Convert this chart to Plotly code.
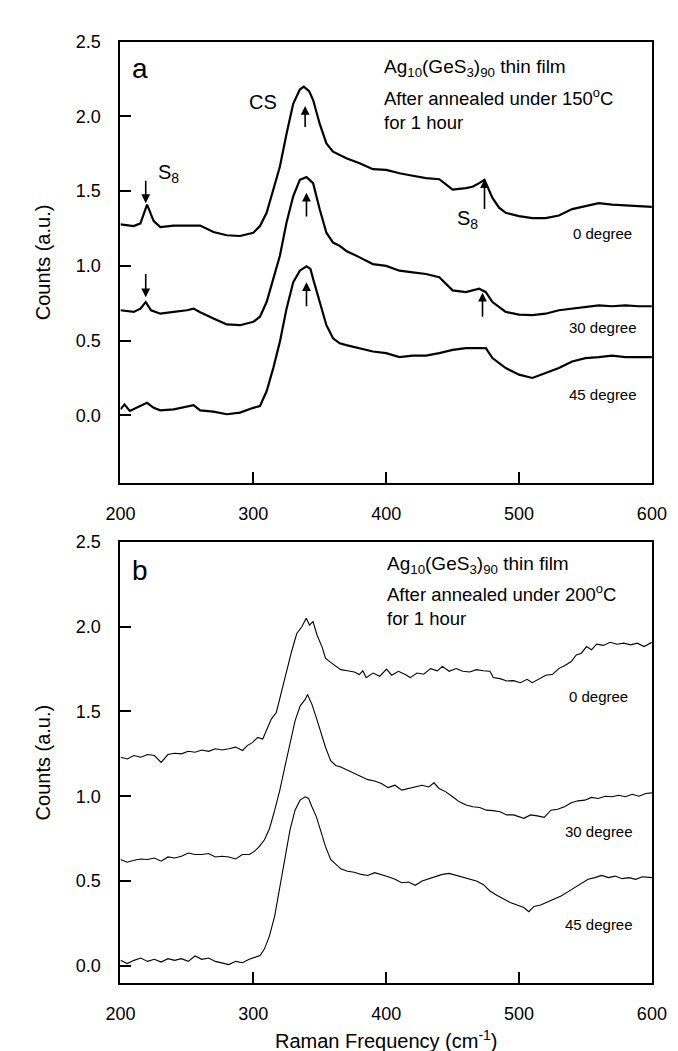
import plotly.graph_objects as go

# ---------------- Panel a (150 C anneal) ----------------
a0_x = [200, 210, 215, 220, 225, 230, 240, 250, 260, 270, 280, 290, 300, 305, 310, 315, 320, 325, 330, 335, 338, 342, 345, 350, 355, 360, 365, 370, 380, 390, 400, 410, 420, 430, 440, 450, 460, 465, 470, 474, 480, 485, 490, 500, 510, 520, 530, 540, 550, 560, 570, 580, 590, 600]
a0_y = [1.278, 1.267, 1.285, 1.41, 1.30, 1.26, 1.27, 1.27, 1.27, 1.227, 1.205, 1.20, 1.222, 1.267, 1.355, 1.51, 1.665, 1.885, 2.085, 2.18, 2.20, 2.17, 2.11, 1.95, 1.82, 1.764, 1.74, 1.72, 1.687, 1.647, 1.643, 1.62, 1.603, 1.587, 1.58, 1.51, 1.52, 1.53, 1.554, 1.576, 1.455, 1.39, 1.355, 1.333, 1.32, 1.32, 1.337, 1.38, 1.40, 1.42, 1.41, 1.404, 1.40, 1.395]

a30_x = [200, 210, 215, 219, 223, 230, 240, 250, 255, 260, 270, 280, 290, 300, 305, 310, 315, 320, 325, 330, 335, 340, 345, 350, 355, 360, 365, 370, 380, 390, 400, 410, 420, 430, 440, 450, 460, 470, 475, 480, 490, 500, 510, 520, 530, 540, 550, 560, 570, 580, 590, 600]
a30_y = [0.703, 0.692, 0.714, 0.758, 0.703, 0.68, 0.692, 0.703, 0.714, 0.69, 0.648, 0.608, 0.603, 0.626, 0.66, 0.758, 0.913, 1.068, 1.29, 1.466, 1.576, 1.594, 1.554, 1.377, 1.222, 1.156, 1.134, 1.10, 1.057, 1.012, 1.0, 0.968, 0.957, 0.946, 0.924, 0.836, 0.824, 0.847, 0.824, 0.758, 0.692, 0.674, 0.67, 0.68, 0.703, 0.714, 0.725, 0.736, 0.73, 0.736, 0.73, 0.73]

a45_x = [200, 203, 207, 215, 220, 225, 230, 240, 250, 255, 260, 270, 280, 290, 300, 305, 310, 315, 320, 325, 330, 335, 340, 343, 345, 350, 355, 360, 365, 370, 380, 390, 400, 410, 420, 430, 440, 450, 460, 470, 475, 480, 490, 500, 510, 520, 530, 540, 550, 560, 570, 580, 590, 600]
a45_y = [0.04, 0.073, 0.029, 0.062, 0.084, 0.05, 0.033, 0.04, 0.062, 0.068, 0.033, 0.024, 0.007, 0.018, 0.05, 0.062, 0.161, 0.316, 0.493, 0.714, 0.89, 0.968, 0.997, 0.98, 0.913, 0.758, 0.603, 0.515, 0.482, 0.47, 0.45, 0.427, 0.416, 0.39, 0.40, 0.40, 0.416, 0.438, 0.45, 0.45, 0.45, 0.383, 0.316, 0.272, 0.25, 0.283, 0.316, 0.36, 0.383, 0.39, 0.40, 0.39, 0.39, 0.39]

# ---------------- Panel b (200 C anneal) ----------------
b0_x = [200, 205.1, 210.2, 215.3, 220.4, 225.5, 230.6, 235.7, 240.8, 245.9, 251.0, 256.1, 261.2, 266.3, 271.4, 276.5, 281.6, 286.7, 291.8, 295.7, 299.5, 303.3, 307.1, 309.7, 313.5, 317.3, 321.2, 325.0, 328.8, 332.7, 336.5, 339.8, 342.3, 344.9, 348.0, 351.8, 354.3, 358.2, 362.0, 365.8, 370.9, 376.0, 379.8, 382.4, 384.9, 390.1, 395.2, 400.3, 404.1, 409.2, 414.3, 418.1, 423.2, 428.3, 433.4, 438.5, 442.3, 447.4, 452.6, 457.7, 462.8, 467.9, 473.0, 478.1, 480.6, 485.7, 490.8, 495.9, 501.0, 506.1, 509.9, 515.1, 520.2, 525.3, 530.4, 534.2, 539.3, 543.1, 546.9, 550.8, 554.6, 558.4, 563.5, 568.6, 573.7, 578.8, 583.9, 589.0, 594.1, 600]
b0_y = [1.23, 1.22, 1.24, 1.23, 1.246, 1.24, 1.20, 1.246, 1.254, 1.25, 1.265, 1.26, 1.273, 1.265, 1.28, 1.273, 1.28, 1.29, 1.27, 1.30, 1.318, 1.347, 1.338, 1.386, 1.455, 1.494, 1.62, 1.737, 1.854, 1.96, 2.0, 2.05, 2.01, 2.03, 1.95, 1.88, 1.815, 1.79, 1.77, 1.747, 1.74, 1.733, 1.718, 1.74, 1.70, 1.727, 1.708, 1.75, 1.714, 1.737, 1.718, 1.70, 1.727, 1.72, 1.753, 1.74, 1.766, 1.737, 1.753, 1.737, 1.733, 1.747, 1.74, 1.737, 1.70, 1.694, 1.68, 1.682, 1.67, 1.69, 1.67, 1.69, 1.714, 1.72, 1.756, 1.77, 1.795, 1.834, 1.844, 1.883, 1.864, 1.897, 1.89, 1.908, 1.897, 1.903, 1.893, 1.903, 1.883, 1.908]

b30_x = [200, 205.1, 210.2, 215.3, 220.4, 225.5, 230.6, 235.7, 240.8, 245.9, 251.0, 256.1, 261.2, 266.3, 271.4, 276.5, 281.6, 286.7, 291.8, 296.9, 300.8, 304.6, 308.4, 312.2, 316.1, 319.9, 323.7, 327.6, 331.4, 335.2, 339.0, 340.8, 344.1, 347.4, 350.5, 354.3, 358.2, 362.0, 365.8, 370.9, 376.0, 381.1, 386.2, 391.3, 396.4, 401.5, 406.6, 411.7, 416.8, 421.9, 427.0, 432.1, 436.0, 439.8, 444.9, 450.0, 455.1, 460.2, 465.3, 470.4, 475.5, 480.6, 485.7, 490.8, 495.9, 503.6, 508.7, 513.8, 518.9, 524.0, 529.1, 534.2, 539.3, 544.4, 549.5, 554.6, 559.7, 564.8, 569.9, 575.0, 580.1, 585.2, 590.3, 595.4, 600]
b30_y = [0.627, 0.611, 0.623, 0.63, 0.627, 0.636, 0.617, 0.642, 0.636, 0.646, 0.665, 0.656, 0.656, 0.662, 0.642, 0.646, 0.642, 0.63, 0.656, 0.656, 0.675, 0.704, 0.743, 0.81, 0.918, 1.035, 1.172, 1.308, 1.445, 1.532, 1.571, 1.60, 1.542, 1.464, 1.386, 1.289, 1.21, 1.182, 1.172, 1.153, 1.133, 1.114, 1.098, 1.09, 1.075, 1.051, 1.065, 1.036, 1.046, 1.059, 1.065, 1.055, 1.079, 1.046, 1.026, 0.997, 0.967, 0.948, 0.938, 0.934, 0.918, 0.915, 0.909, 0.89, 0.89, 0.87, 0.89, 0.884, 0.876, 0.918, 0.923, 0.938, 0.962, 0.973, 0.977, 0.993, 0.987, 1.0, 0.997, 1.006, 0.997, 1.012, 1.0, 1.016, 1.02]

b45_x = [200, 205.1, 210.2, 215.3, 220.4, 225.5, 230.6, 235.7, 240.8, 245.9, 251.0, 256.1, 261.2, 266.3, 271.4, 276.5, 281.6, 286.7, 291.8, 296.9, 302.0, 305.1, 308.4, 312.2, 316.1, 319.9, 323.7, 327.6, 331.4, 335.2, 339.0, 341.6, 344.1, 347.4, 350.5, 354.3, 358.2, 362.0, 365.8, 370.9, 376.0, 381.1, 386.2, 391.3, 396.4, 401.5, 406.6, 411.7, 416.8, 421.9, 427.0, 432.1, 437.2, 442.3, 447.4, 452.6, 457.7, 462.8, 467.9, 473.0, 478.1, 483.2, 488.3, 493.4, 498.5, 503.6, 507.4, 511.2, 516.3, 521.4, 526.5, 531.6, 536.7, 541.8, 546.9, 552.0, 557.1, 562.2, 567.3, 572.4, 577.6, 582.7, 587.8, 592.9, 600]
b45_y = [0.032, 0.013, 0.032, 0.046, 0.026, 0.038, 0.022, 0.042, 0.032, 0.042, 0.026, 0.058, 0.038, 0.046, 0.026, 0.018, 0.007, 0.026, 0.018, 0.038, 0.052, 0.061, 0.10, 0.178, 0.295, 0.47, 0.645, 0.802, 0.918, 0.977, 0.997, 0.987, 0.938, 0.88, 0.802, 0.704, 0.627, 0.598, 0.572, 0.558, 0.552, 0.539, 0.533, 0.549, 0.539, 0.525, 0.51, 0.49, 0.494, 0.475, 0.50, 0.514, 0.529, 0.539, 0.545, 0.533, 0.525, 0.51, 0.50, 0.48, 0.441, 0.416, 0.393, 0.373, 0.358, 0.344, 0.319, 0.35, 0.358, 0.377, 0.393, 0.412, 0.436, 0.461, 0.486, 0.51, 0.52, 0.533, 0.52, 0.529, 0.514, 0.52, 0.51, 0.525, 0.52]

x_ticks = [200, 300, 400, 500, 600]
y_ticks = [0.0, 0.5, 1.0, 1.5, 2.0, 2.5]
y_ticktext = ["0.0", "0.5", "1.0", "1.5", "2.0", "2.5"]
degree_labels = ["0 degree", "30 degree", "45 degree"]

FONT = "Liberation Sans, Arial, sans-serif"
W, H = 678, 1051
L, R = 102, 658
A_T, A_B = 24, 469
B_T, B_B = 529, 974

fig = go.Figure()
for xs, ys in [(a0_x, a0_y), (a30_x, a30_y), (a45_x, a45_y)]:
    fig.add_trace(go.Scatter(x=xs, y=ys, mode="lines", line=dict(color="black", width=2.2),
                             xaxis="x", yaxis="y", showlegend=False, hoverinfo="skip"))
for xs, ys in [(b0_x, b0_y), (b30_x, b30_y), (b45_x, b45_y)]:
    fig.add_trace(go.Scatter(x=xs, y=ys, mode="lines", line=dict(color="black", width=1.1),
                             xaxis="x2", yaxis="y2", showlegend=False, hoverinfo="skip"))

axis_common = dict(showline=True, mirror=True, linecolor="black", linewidth=2,
                   ticks="inside", ticklen=11, tickwidth=1.5, tickcolor="black",
                   showgrid=False, zeroline=False,
                   tickfont=dict(family=FONT, size=18, color="black"),
                   ticklabelstandoff=14)

fig.update_layout(
    width=W, height=H,
    margin=dict(l=0, r=0, t=0, b=0),
    paper_bgcolor="white", plot_bgcolor="white",
    xaxis=dict(axis_common, domain=[L / W, R / W], range=[200, 600], tickvals=x_ticks, anchor="y"),
    yaxis=dict(axis_common, domain=[1 - A_B / H, 1 - A_T / H], range=[-0.45, 2.5],
               tickvals=y_ticks, ticktext=y_ticktext, anchor="x"),
    xaxis2=dict(axis_common, domain=[L / W, R / W], range=[200, 600], tickvals=x_ticks, anchor="y2"),
    yaxis2=dict(axis_common, domain=[1 - B_B / H, 1 - B_T / H], range=[-0.1, 2.5],
                tickvals=y_ticks, ticktext=y_ticktext, anchor="x2"),
)

ann = []
def txt(xref, yref, x, y, text, size=19, xanchor="left"):
    ann.append(dict(xref=xref, yref=yref, x=x, y=y, text=text, showarrow=False,
                    xanchor=xanchor, yanchor="middle", align="left",
                    font=dict(family=FONT, size=size, color="black")))

def arrow(xref, yref, x, y_tail, y_head):
    ann.append(dict(xref=xref, yref=yref, axref=xref, ayref=yref, x=x, y=y_head,
                    ax=x, ay=y_tail, text="", showarrow=True, arrowhead=2,
                    arrowsize=1.1, arrowwidth=1.6, arrowcolor="black"))

# Panel a texts
txt("x", "y", 215, 2.32, "a", size=28, xanchor="center")
txt("x", "y", 397, 2.323, "Ag<sub>10</sub>(GeS<sub>3</sub>)<sub>90</sub> thin film")
txt("x", "y", 397, 2.051, "After annealed under 150<sup>o</sup>C<br>for 1 hour", size=18.5)
txt("x", "y", 307, 2.10, "CS", size=20, xanchor="center")
txt("x", "y", 236, 1.62, "S<sub>8</sub>", size=20, xanchor="center")
txt("x", "y", 461, 1.31, "S<sub>8</sub>", size=20, xanchor="center")
for lab, yv in zip(degree_labels, [1.22, 0.59, 0.14]):
    txt("x", "y", 563, yv, lab, size=15, xanchor="center")
arrow("x", "y", 219, 1.58, 1.42)
arrow("x", "y", 219, 0.955, 0.79)
arrow("x", "y", 339, 1.92, 2.07)
arrow("x", "y", 340, 1.32, 1.49)
arrow("x", "y", 340, 0.72, 0.89)
arrow("x", "y", 474, 1.37, 1.58)
arrow("x", "y", 472.5, 0.65, 0.82)

# Panel b texts
txt("x2", "y2", 215, 2.33, "b", size=28, xanchor="center")
txt("x2", "y2", 399, 2.362, "Ag<sub>10</sub>(GeS<sub>3</sub>)<sub>90</sub> thin film")
txt("x2", "y2", 399, 2.13, "After annealed under 200<sup>o</sup>C<br>for 1 hour", size=18.5)
for lab, yv in zip(degree_labels, [1.59, 0.79, 0.246]):
    txt("x2", "y2", 560, yv, lab, size=15, xanchor="center")

# Axis titles
for yc in [(A_T + A_B) / 2, (B_T + B_B) / 2]:
    ann.append(dict(xref="paper", yref="paper", x=21 / W, y=1 - yc / H, text="Counts (a.u.)",
                    showarrow=False, textangle=-90, xanchor="center", yanchor="middle",
                    font=dict(family=FONT, size=20, color="black")))
ann.append(dict(xref="paper", yref="paper", x=(L + R) / 2 / W, y=1 - 1031 / H,
                text="Raman Frequency (cm<sup>-1</sup>)", showarrow=False,
                xanchor="center", yanchor="middle",
                font=dict(family=FONT, size=20, color="black")))

fig.update_layout(annotations=ann)
fig.write_html("out.html")
